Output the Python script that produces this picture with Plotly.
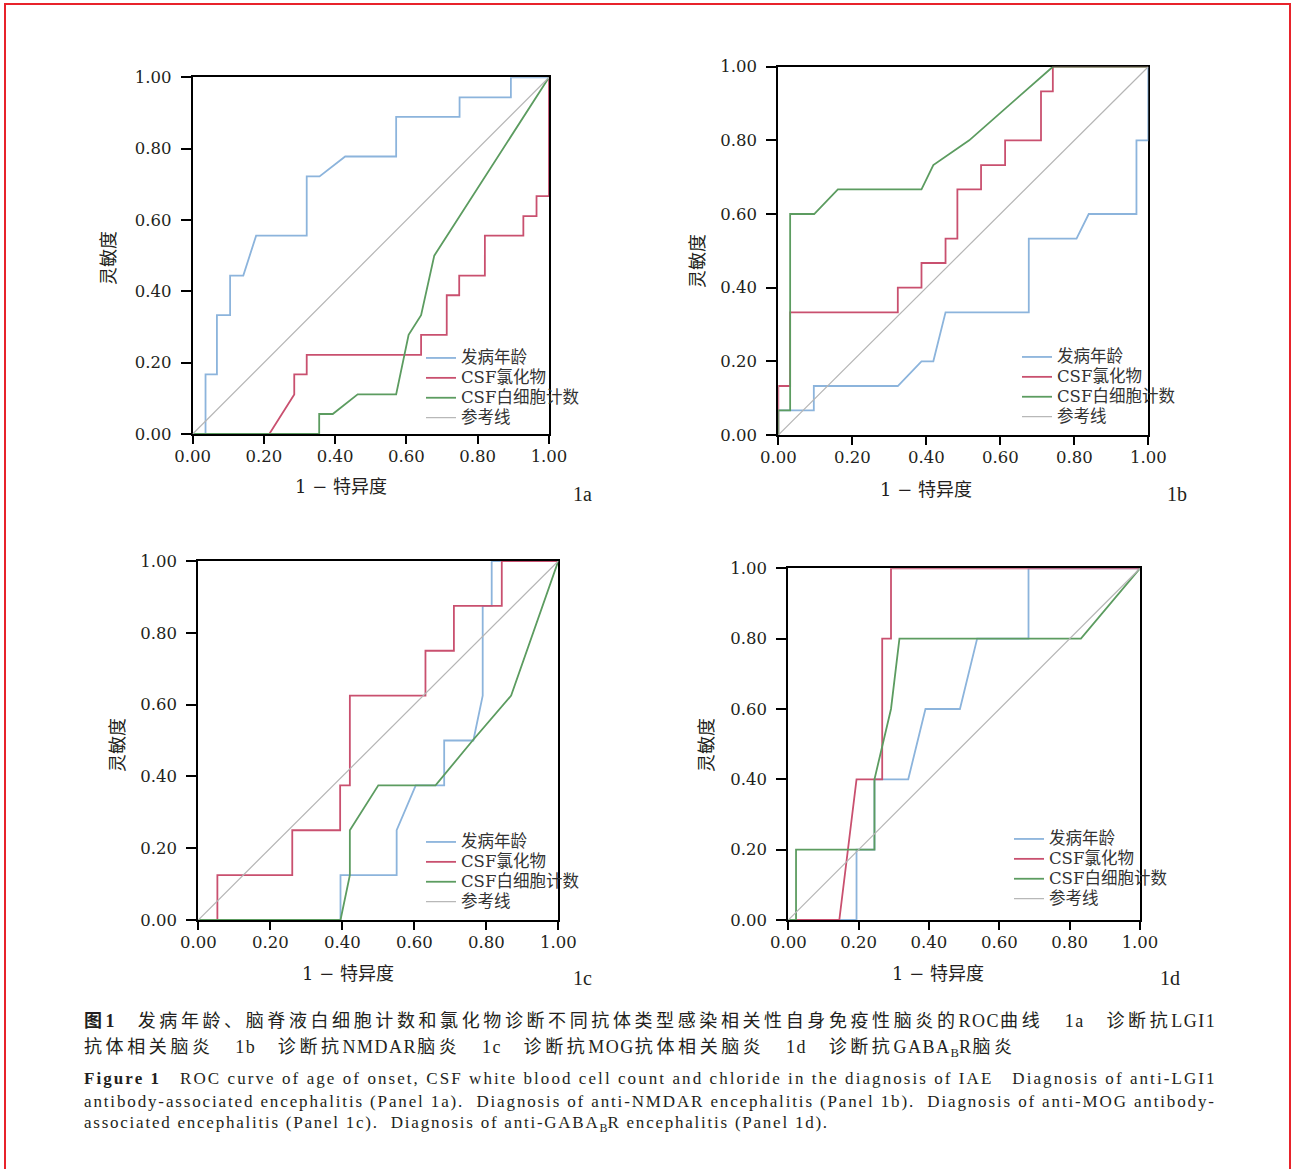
import plotly.graph_objects as go

W, H = 1294, 1169

# ---------------- data ----------------
ticks = [0.0, 0.2, 0.4, 0.6, 0.8, 1.0]
tick_text = ["0.00", "0.20", "0.40", "0.60", "0.80", "1.00"]
series_names = ["发病年龄", "CSF氯化物", "CSF白细胞计数", "参考线"]
panel_labels = ["1a", "1b", "1c", "1d"]

# Panel 1a (anti-LGI1)
a_age_x = [0, 0.036, 0.036, 0.068, 0.068, 0.105, 0.105, 0.142, 0.178, 0.320, 0.320, 0.356, 0.428, 0.571, 0.571, 0.749, 0.749, 0.893, 0.893, 1.0]
a_age_y = [0, 0, 0.167, 0.167, 0.333, 0.333, 0.444, 0.444, 0.556, 0.556, 0.722, 0.722, 0.778, 0.778, 0.889, 0.889, 0.944, 0.944, 1.0, 1.0]
a_cl_x = [0, 0.215, 0.285, 0.285, 0.320, 0.320, 0.641, 0.641, 0.713, 0.713, 0.748, 0.748, 0.820, 0.820, 0.928, 0.928, 0.965, 0.965, 1.0, 1.0]
a_cl_y = [0, 0, 0.111, 0.167, 0.167, 0.222, 0.222, 0.278, 0.278, 0.389, 0.389, 0.444, 0.444, 0.556, 0.556, 0.611, 0.611, 0.667, 0.667, 1.0]
a_wbc_x = [0, 0.355, 0.355, 0.393, 0.463, 0.571, 0.606, 0.641, 0.678, 1.0]
a_wbc_y = [0, 0, 0.056, 0.056, 0.111, 0.111, 0.278, 0.333, 0.500, 1.0]

# Panel 1b (anti-NMDAR)
b_age_x = [0, 0, 0.096, 0.096, 0.323, 0.387, 0.419, 0.452, 0.677, 0.677, 0.806, 0.839, 0.968, 0.968, 1.0, 1.0]
b_age_y = [0, 0.067, 0.067, 0.133, 0.133, 0.200, 0.200, 0.333, 0.333, 0.533, 0.533, 0.600, 0.600, 0.800, 0.800, 1.0]
b_cl_x = [0, 0, 0.032, 0.032, 0.323, 0.323, 0.387, 0.387, 0.452, 0.452, 0.484, 0.484, 0.548, 0.548, 0.613, 0.613, 0.710, 0.710, 0.742, 0.742, 1.0]
b_cl_y = [0, 0.133, 0.133, 0.333, 0.333, 0.400, 0.400, 0.467, 0.467, 0.533, 0.533, 0.667, 0.667, 0.733, 0.733, 0.800, 0.800, 0.933, 0.933, 1.0, 1.0]
b_wbc_x = [0, 0, 0.032, 0.032, 0.097, 0.161, 0.387, 0.419, 0.516, 0.742, 1.0]
b_wbc_y = [0, 0.067, 0.067, 0.600, 0.600, 0.667, 0.667, 0.733, 0.800, 1.0, 1.0]

# Panel 1c (anti-MOG)
c_age_x = [0, 0.395, 0.395, 0.551, 0.551, 0.604, 0.683, 0.683, 0.764, 0.790, 0.790, 0.815, 0.815, 1.0]
c_age_y = [0, 0, 0.125, 0.125, 0.250, 0.375, 0.375, 0.500, 0.500, 0.625, 0.875, 0.875, 1.0, 1.0]
c_cl_x = [0, 0.053, 0.053, 0.261, 0.261, 0.394, 0.394, 0.421, 0.421, 0.631, 0.631, 0.710, 0.710, 0.843, 0.843, 1.0]
c_cl_y = [0, 0, 0.125, 0.125, 0.250, 0.250, 0.375, 0.375, 0.625, 0.625, 0.750, 0.750, 0.875, 0.875, 1.0, 1.0]
c_wbc_x = [0, 0.395, 0.421, 0.421, 0.500, 0.659, 0.762, 0.869, 1.0]
c_wbc_y = [0, 0, 0.125, 0.250, 0.375, 0.375, 0.500, 0.625, 1.0]

# Panel 1d (anti-GABA-B R)
d_age_x = [0, 0.194, 0.194, 0.245, 0.245, 0.341, 0.390, 0.488, 0.537, 0.683, 0.683, 1.0]
d_age_y = [0, 0, 0.2, 0.2, 0.4, 0.4, 0.6, 0.6, 0.8, 0.8, 1.0, 1.0]
d_cl_x = [0, 0.145, 0.194, 0.267, 0.267, 0.292, 0.292, 1.0]
d_cl_y = [0, 0, 0.4, 0.4, 0.8, 0.8, 1.0, 1.0]
d_wbc_x = [0, 0.022, 0.022, 0.245, 0.245, 0.292, 0.316, 0.832, 1.0]
d_wbc_y = [0, 0, 0.2, 0.2, 0.4, 0.6, 0.8, 0.8, 1.0]

ref_x = [0, 1]
ref_y = [0, 1]

# ---------------- styling / layout ----------------
colors = ["#8cb4dc", "#c9506f", "#5c9c60", "#b5b5b5"]
widths = [1.8, 1.8, 1.8, 1.2]
SERIF = "DejaVu Serif, Noto Sans CJK SC"
INK = "#231f20"

# pixel boxes of the four plot areas: (left, right, top, bottom)
boxes = [
    (192.7, 549.0, 77.3, 434.0),
    (778.3, 1148.3, 66.7, 435.0),
    (198.3, 558.3, 561.0, 920.0),
    (788.3, 1140.0, 568.3, 920.0),
]
legend_pos = [(421, 343), (1017, 342), (421, 827), (1009, 824)]
xtitle_pos = [(341, 487), (926, 490), (348, 973), (938, 973)]
ytitle_pos = [(108, 258), (697, 261), (117, 745), (706, 745)]
label_pos = [(582, 494), (1177, 494), (582, 978), (1170, 978)]

panels = [
    [(a_age_x, a_age_y), (a_cl_x, a_cl_y), (a_wbc_x, a_wbc_y), (ref_x, ref_y)],
    [(b_age_x, b_age_y), (b_cl_x, b_cl_y), (b_wbc_x, b_wbc_y), (ref_x, ref_y)],
    [(c_age_x, c_age_y), (c_cl_x, c_cl_y), (c_wbc_x, c_wbc_y), (ref_x, ref_y)],
    [(d_age_x, d_age_y), (d_cl_x, d_cl_y), (d_wbc_x, d_wbc_y), (ref_x, ref_y)],
]

fig = go.Figure()
layout = dict(
    width=W, height=H, autosize=False,
    margin=dict(l=0, r=0, t=0, b=0, pad=0, autoexpand=False),
    paper_bgcolor="white", plot_bgcolor="white",
    showlegend=True,
)
annotations = []

for i, (series, box) in enumerate(zip(panels, boxes)):
    n = "" if i == 0 else str(i + 1)
    xa, ya = "x" + n, "y" + n
    leg = "legend" + n
    for k, (xs, ys) in enumerate(series):
        fig.add_trace(go.Scatter(
            x=xs, y=ys, mode="lines",
            name='<span style="font-size:16.5px">%s</span>' % series_names[k],
            line=dict(color=colors[k], width=widths[k]),
            xaxis=xa, yaxis=ya, legend=leg, hoverinfo="skip",
        ))
    l, r, t, b = box
    common = dict(
        range=[0, 1], tickvals=ticks, ticktext=tick_text,
        showgrid=False, zeroline=False, showline=True, linecolor="black",
        linewidth=2, mirror=True, ticks="outside", tickcolor="black",
        tickwidth=2, tickfont=dict(family=SERIF, size=16.5, color=INK),
        layer="below traces", fixedrange=True, automargin=False,
    )
    layout["xaxis" + n] = dict(common, domain=[l / W, r / W], anchor=ya,
                                ticklen=8, ticklabelstandoff=-2)
    layout["yaxis" + n] = dict(common, domain=[1 - b / H, 1 - t / H], anchor=xa,
                                ticklen=10, ticklabelstandoff=6)
    lx, ly = legend_pos[i]
    layout[leg] = dict(
        x=lx / W, y=1 - ly / H, xanchor="left", yanchor="top",
        bgcolor="rgba(0,0,0,0)", borderwidth=0,
        font=dict(family=SERIF, size=13, color="#333333"),
        itemwidth=30, tracegroupgap=0,
    )
    tx, ty = xtitle_pos[i]
    annotations.append(dict(text="1 − 特异度", x=tx / W, y=1 - ty / H, xref="paper", yref="paper",
                            showarrow=False, xanchor="center", yanchor="middle",
                            font=dict(family=SERIF, size=18, color=INK)))
    yx, yy = ytitle_pos[i]
    annotations.append(dict(text="灵敏度", x=yx / W, y=1 - yy / H, xref="paper", yref="paper",
                            showarrow=False, xanchor="center", yanchor="middle", textangle=-90,
                            font=dict(family=SERIF, size=18, color=INK)))
    px_, py_ = label_pos[i]
    annotations.append(dict(text=panel_labels[i], x=px_ / W, y=1 - py_ / H, xref="paper", yref="paper",
                            showarrow=False, xanchor="center", yanchor="middle",
                            font=dict(family="Liberation Serif, serif", size=20, color=INK)))


# caption
def run(text, ls, bold=False):
    return '<span style="%sletter-spacing:%.2fpx">%s</span>' % ("font-weight:bold;" if bold else "", ls, text)


CAP_CN = "Liberation Serif, Noto Sans CJK SC"
LAT = 1.5
cn1 = 3.6
cn2 = 3.6
cap_line1 = (run("图", cn1, True) + run("1", LAT, True)
             + run("\u3000发病年龄、脑脊液白细胞计数和氯化物诊断不同抗体类型感染相关性自身免疫性脑炎的", cn1)
             + run("ROC", LAT) + run("曲线\u3000", cn1) + run("1a", LAT)
             + run("\u3000诊断抗", cn1) + run("LGI1", LAT))
cap_line2 = (run("抗体相关脑炎\u3000", cn2) + run("1b", LAT) + run("\u3000诊断抗", cn2) + run("NMDAR", LAT)
             + run("脑炎\u3000", cn2) + run("1c", LAT) + run("\u3000诊断抗", cn2) + run("MOG", LAT)
             + run("抗体相关脑炎\u3000", cn2) + run("1d", LAT) + run("\u3000诊断抗", cn2)
             + run("GABA", LAT) + "<sub>B</sub>" + run("R", LAT) + run("脑炎", cn2))
cap_lines = [
    (cap_line1, 1021, 18),
    (cap_line2, 1048, 18),
    (run("<b>Figure 1</b>   ROC curve of age of onset, CSF white blood cell count and chloride in the diagnosis of IAE   Diagnosis of anti-LGI1", 2.07), 1078, 17),
    (run("antibody-associated encephalitis (Panel 1a).  Diagnosis of anti-NMDAR encephalitis (Panel 1b).  Diagnosis of anti-MOG antibody-", 1.86), 1101, 17),
    (run("associated encephalitis (Panel 1c).  Diagnosis of anti-GABA", 1.76) + "<sub>B</sub>" + run("R encephalitis (Panel 1d).", 1.76), 1124, 17),
]
for txt, yc, fs in cap_lines:
    annotations.append(dict(
        text=txt,
        x=82 / W, y=1 - yc / H, xref="paper", yref="paper", showarrow=False,
        xanchor="left", yanchor="middle", align="left",
        font=dict(family=CAP_CN, size=fs, color=INK)))

layout["annotations"] = annotations
layout["shapes"] = [dict(type="rect", xref="paper", yref="paper",
                         x0=5 / W, x1=1290 / W, y0=1 - 1180 / H, y1=1 - 4 / H,
                         line=dict(color="#e8232b", width=2), fillcolor="rgba(0,0,0,0)")]
fig.update_layout(**layout)
fig.write_html(
    "out.html",
    config={"responsive": False, "displayModeBar": False},
    post_script="document.documentElement.style.margin='0';document.body.style.margin='0';"
                "document.body.style.padding='0';document.documentElement.style.overflow='hidden';",
)
